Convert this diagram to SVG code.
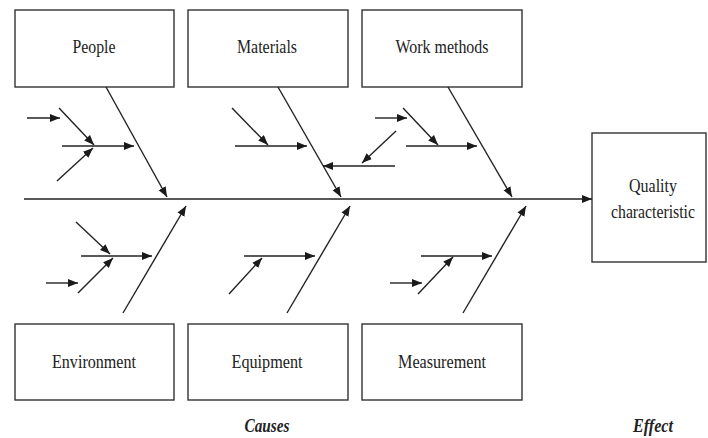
<svg xmlns="http://www.w3.org/2000/svg" width="708" height="438" viewBox="0 0 708 438">
<defs>
<marker id="ah" markerUnits="userSpaceOnUse" markerWidth="12" markerHeight="10" refX="10" refY="4" orient="auto"><path d="M0,0 L10,4 L0,8 z" fill="#1a1a1a"/></marker>
<style>
.box{fill:#fff;stroke:#333;stroke-width:1.4}
.t{font-family:"Liberation Serif","Times New Roman",serif;font-size:19px;fill:#222;text-anchor:middle}
.lab{font-family:"Liberation Serif","Times New Roman",serif;font-size:19px;font-weight:bold;font-style:italic;fill:#222;text-anchor:middle}
.c line{stroke:#222;stroke-width:1.4;marker-end:url(#ah)}
</style>
</defs>
<rect width="708" height="438" fill="#fff"/>
<g id="people"><rect class="box" x="15" y="10" width="159" height="77"/><text class="t" x="94" y="53" textLength="43" lengthAdjust="spacingAndGlyphs">People</text></g>
<g id="materials"><rect class="box" x="188" y="10" width="160" height="77"/><text class="t" x="267" y="53" textLength="60" lengthAdjust="spacingAndGlyphs">Materials</text></g>
<g id="workmethods"><rect class="box" x="362" y="10" width="160" height="77"/><text class="t" x="442" y="53" textLength="93" lengthAdjust="spacingAndGlyphs">Work methods</text></g>
<g id="environment"><rect class="box" x="15" y="324" width="159" height="76"/><text class="t" x="94" y="368" textLength="84" lengthAdjust="spacingAndGlyphs">Environment</text></g>
<g id="equipment"><rect class="box" x="188" y="324" width="160" height="76"/><text class="t" x="267" y="368" textLength="71" lengthAdjust="spacingAndGlyphs">Equipment</text></g>
<g id="measurement"><rect class="box" x="362" y="324" width="160" height="76"/><text class="t" x="442" y="368" textLength="88" lengthAdjust="spacingAndGlyphs">Measurement</text></g>
<g id="quality"><rect class="box" x="592" y="133" width="114" height="129"/><text class="t" x="653" y="192" textLength="48" lengthAdjust="spacingAndGlyphs">Quality</text><text class="t" x="653" y="218" font-size="18" textLength="84" lengthAdjust="spacingAndGlyphs">characteristic</text></g>
<g id="labels"><text class="lab" x="267" y="432" textLength="45" lengthAdjust="spacingAndGlyphs">Causes</text><text class="lab" x="653" y="432" textLength="40" lengthAdjust="spacingAndGlyphs">Effect</text></g>
<g id="connectors" class="c">
<line x1="24" y1="199" x2="592" y2="199"/>
<line x1="106" y1="87" x2="167" y2="197"/>
<line x1="278" y1="87" x2="341" y2="197"/>
<line x1="448" y1="87" x2="512" y2="197"/>
<line x1="123" y1="313" x2="186" y2="206"/>
<line x1="287" y1="313" x2="350" y2="206"/>
<line x1="463" y1="313" x2="526" y2="206"/>
<line x1="27" y1="118" x2="60" y2="118"/>
<line x1="59" y1="108" x2="94" y2="145"/>
<line x1="62" y1="146" x2="134" y2="146"/>
<line x1="57" y1="181" x2="93" y2="148"/>
<line x1="232" y1="108" x2="268" y2="145"/>
<line x1="235" y1="146" x2="307" y2="146"/>
<line x1="395" y1="166" x2="323" y2="166"/>
<line x1="396" y1="131" x2="362" y2="163"/>
<line x1="375" y1="118" x2="407" y2="118"/>
<line x1="403" y1="108" x2="438" y2="145"/>
<line x1="406" y1="146" x2="477" y2="146"/>
<line x1="76" y1="222" x2="110" y2="254"/>
<line x1="81" y1="256" x2="152" y2="256"/>
<line x1="46" y1="283" x2="78" y2="283"/>
<line x1="78" y1="293" x2="113" y2="258"/>
<line x1="244" y1="256" x2="315" y2="256"/>
<line x1="229" y1="294" x2="262" y2="258"/>
<line x1="421" y1="256" x2="492" y2="256"/>
<line x1="390" y1="283" x2="422" y2="283"/>
<line x1="418" y1="294" x2="453" y2="257"/>
</g>
</svg>
